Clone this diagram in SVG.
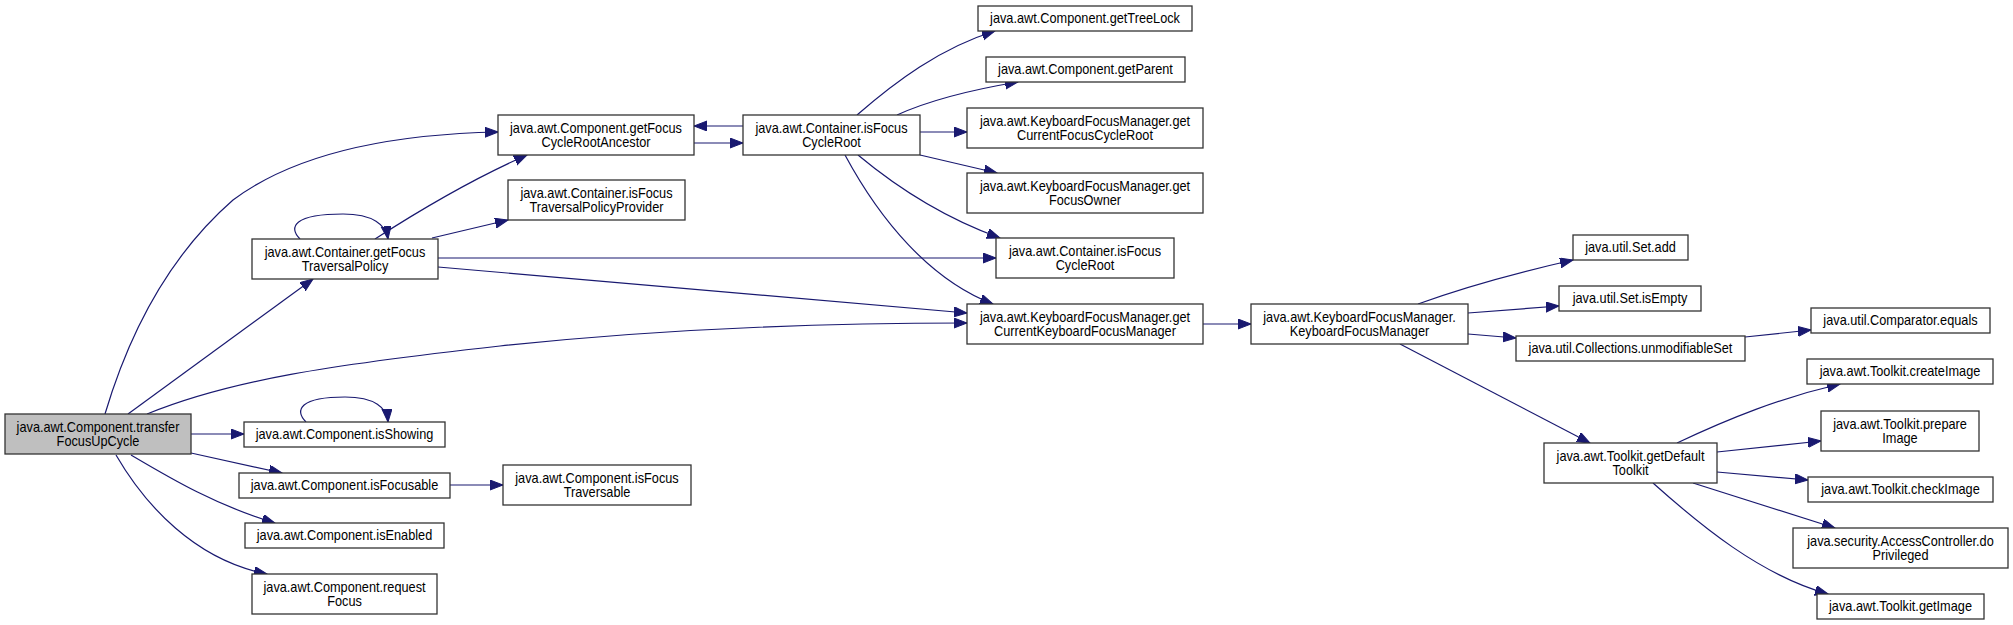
<svg xmlns="http://www.w3.org/2000/svg" width="2013" height="625" viewBox="0 0 2013 625">
<style>
.n rect{fill:#ffffff;stroke:#333333;stroke-width:1.3}
.n.root rect{fill:#bfbfbf}
.n text{font-family:"Liberation Sans",Arial,sans-serif;font-size:14px;fill:#000000;text-anchor:middle}
.e path{fill:none;stroke:#191970;stroke-width:1.2;marker-end:url(#a)}
</style>
<defs>
<marker id="a" markerWidth="14" markerHeight="11" refX="13" refY="5" orient="auto" markerUnits="userSpaceOnUse">
<path d="M0,0 L13,5 L0,10 z" fill="#191970" stroke="#191970" stroke-width="1"/>
</marker>
</defs>
<rect x="0" y="0" width="2013" height="625" fill="#ffffff"/>
<g id="edges" class="e">
<path d="M105,414 C130,330 170,255 233,200 C300,150 400,134 498,132"/>
<path d="M128,414 L313,279"/>
<path d="M147,414 C230,380 330,365 500,346 C650,330 800,323 967,323"/>
<path d="M191,434 L244,434"/>
<path d="M191,453 L282,473"/>
<path d="M131,455 C170,478 215,505 275,523"/>
<path d="M116,455 C145,505 195,560 267,574"/>
<path d="M306,422 C294,410 300,397 345,397 C375,397 387,408 388,422"/>
<path d="M300,239 C288,227 294,214 343,214 C373,214 386,225 388,239"/>
<path d="M375,239 C420,210 470,180 527,155"/>
<path d="M432,238 L508,220"/>
<path d="M438,258 L996,258"/>
<path d="M438,267 L967,313"/>
<path d="M694,143 L743,143"/>
<path d="M743,126 L694,126"/>
<path d="M857,115 C895,82 940,48 995,31"/>
<path d="M897,115 C930,100 970,90 1018,82"/>
<path d="M920,132 L967,132"/>
<path d="M920,155 L997,173"/>
<path d="M858,155 C900,190 950,220 1000,238"/>
<path d="M845,155 C880,220 930,280 993,304"/>
<path d="M1203,324 L1251,324"/>
<path d="M1418,304 C1470,285 1520,272 1573,260"/>
<path d="M1468,313 L1559,306"/>
<path d="M1468,334 L1516,338"/>
<path d="M1400,344 L1590,443"/>
<path d="M1745,337 L1811,330"/>
<path d="M1677,443 C1730,418 1780,398 1840,384"/>
<path d="M1717,452 L1821,441"/>
<path d="M1717,472 L1808,480"/>
<path d="M1693,483 L1835,528"/>
<path d="M1653,483 C1700,525 1760,575 1828,594"/>
<path d="M450,485 L503,485"/>
</g>
<g id="n1" class="n root"><rect x="5" y="414" width="186" height="40"/><text transform="translate(98,432) scale(0.91,1)">java.awt.Component.transfer</text><text transform="translate(98,446) scale(0.91,1)">FocusUpCycle</text></g>
<g id="n2" class="n"><rect x="498" y="115" width="196" height="40"/><text transform="translate(596,133) scale(0.91,1)">java.awt.Component.getFocus</text><text transform="translate(596,147) scale(0.91,1)">CycleRootAncestor</text></g>
<g id="n3" class="n"><rect x="252" y="239" width="186" height="40"/><text transform="translate(345,257) scale(0.91,1)">java.awt.Container.getFocus</text><text transform="translate(345,271) scale(0.91,1)">TraversalPolicy</text></g>
<g id="n4" class="n"><rect x="244" y="422" width="201" height="25"/><text transform="translate(344.5,439) scale(0.91,1)">java.awt.Component.isShowing</text></g>
<g id="n5" class="n"><rect x="239" y="473" width="211" height="25"/><text transform="translate(344.5,490) scale(0.91,1)">java.awt.Component.isFocusable</text></g>
<g id="n6" class="n"><rect x="245" y="523" width="199" height="25"/><text transform="translate(344.5,540) scale(0.91,1)">java.awt.Component.isEnabled</text></g>
<g id="n7" class="n"><rect x="252" y="574" width="185" height="40"/><text transform="translate(344.5,592) scale(0.91,1)">java.awt.Component.request</text><text transform="translate(344.5,606) scale(0.91,1)">Focus</text></g>
<g id="n8" class="n"><rect x="503" y="465" width="188" height="40"/><text transform="translate(597,483) scale(0.91,1)">java.awt.Component.isFocus</text><text transform="translate(597,497) scale(0.91,1)">Traversable</text></g>
<g id="n9" class="n"><rect x="508" y="180" width="177" height="40"/><text transform="translate(596.5,198) scale(0.91,1)">java.awt.Container.isFocus</text><text transform="translate(596.5,212) scale(0.91,1)">TraversalPolicyProvider</text></g>
<g id="n10" class="n"><rect x="743" y="115" width="177" height="40"/><text transform="translate(831.5,133) scale(0.91,1)">java.awt.Container.isFocus</text><text transform="translate(831.5,147) scale(0.91,1)">CycleRoot</text></g>
<g id="n11" class="n"><rect x="978" y="6" width="214" height="25"/><text transform="translate(1085,23) scale(0.91,1)">java.awt.Component.getTreeLock</text></g>
<g id="n12" class="n"><rect x="986" y="57" width="199" height="25"/><text transform="translate(1085.5,74) scale(0.91,1)">java.awt.Component.getParent</text></g>
<g id="n13" class="n"><rect x="967" y="108" width="236" height="40"/><text transform="translate(1085,126) scale(0.91,1)">java.awt.KeyboardFocusManager.get</text><text transform="translate(1085,140) scale(0.91,1)">CurrentFocusCycleRoot</text></g>
<g id="n14" class="n"><rect x="967" y="173" width="236" height="40"/><text transform="translate(1085,191) scale(0.91,1)">java.awt.KeyboardFocusManager.get</text><text transform="translate(1085,205) scale(0.91,1)">FocusOwner</text></g>
<g id="n15" class="n"><rect x="996" y="238" width="178" height="40"/><text transform="translate(1085,256) scale(0.91,1)">java.awt.Container.isFocus</text><text transform="translate(1085,270) scale(0.91,1)">CycleRoot</text></g>
<g id="n16" class="n"><rect x="967" y="304" width="236" height="40"/><text transform="translate(1085,322) scale(0.91,1)">java.awt.KeyboardFocusManager.get</text><text transform="translate(1085,336) scale(0.91,1)">CurrentKeyboardFocusManager</text></g>
<g id="n17" class="n"><rect x="1251" y="304" width="217" height="40"/><text transform="translate(1359.5,322) scale(0.91,1)">java.awt.KeyboardFocusManager.</text><text transform="translate(1359.5,336) scale(0.91,1)">KeyboardFocusManager</text></g>
<g id="n18" class="n"><rect x="1573" y="235" width="115" height="25"/><text transform="translate(1630.5,252) scale(0.91,1)">java.util.Set.add</text></g>
<g id="n19" class="n"><rect x="1559" y="286" width="142" height="25"/><text transform="translate(1630,303) scale(0.91,1)">java.util.Set.isEmpty</text></g>
<g id="n20" class="n"><rect x="1516" y="336" width="229" height="25"/><text transform="translate(1630.5,353) scale(0.91,1)">java.util.Collections.unmodifiableSet</text></g>
<g id="n21" class="n"><rect x="1811" y="308" width="179" height="25"/><text transform="translate(1900.5,325) scale(0.91,1)">java.util.Comparator.equals</text></g>
<g id="n22" class="n"><rect x="1544" y="443" width="173" height="40"/><text transform="translate(1630.5,461) scale(0.91,1)">java.awt.Toolkit.getDefault</text><text transform="translate(1630.5,475) scale(0.91,1)">Toolkit</text></g>
<g id="n23" class="n"><rect x="1807" y="359" width="186" height="25"/><text transform="translate(1900,376) scale(0.91,1)">java.awt.Toolkit.createImage</text></g>
<g id="n24" class="n"><rect x="1821" y="411" width="158" height="40"/><text transform="translate(1900,429) scale(0.91,1)">java.awt.Toolkit.prepare</text><text transform="translate(1900,443) scale(0.91,1)">Image</text></g>
<g id="n25" class="n"><rect x="1808" y="477" width="185" height="25"/><text transform="translate(1900.5,494) scale(0.91,1)">java.awt.Toolkit.checkImage</text></g>
<g id="n26" class="n"><rect x="1793" y="528" width="215" height="40"/><text transform="translate(1900.5,546) scale(0.91,1)">java.security.AccessController.do</text><text transform="translate(1900.5,560) scale(0.91,1)">Privileged</text></g>
<g id="n27" class="n"><rect x="1817" y="594" width="167" height="25"/><text transform="translate(1900.5,611) scale(0.91,1)">java.awt.Toolkit.getImage</text></g>
</svg>
